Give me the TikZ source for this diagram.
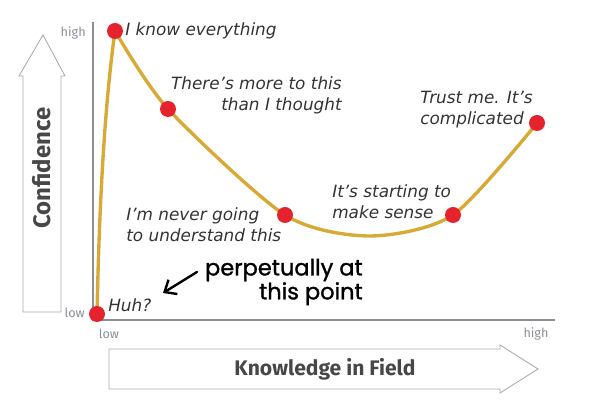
\documentclass[tikz,border=0pt]{standalone}
\usepackage{fontspec}
\usetikzlibrary{arrows.meta}
\newfontfamily\notefont{DejaVu Sans}
\newfontfamily\axisfont{Fira Sans}
\newfontfamily\handfont[FakeBold=1.2]{Poppins}
\definecolor{figA}{HTML}{E4232E}
\definecolor{figB}{HTML}{D9A935}
\definecolor{figC}{HTML}{8C8F97}
\definecolor{figD}{HTML}{A9A9A9}
\definecolor{figE}{HTML}{333333}

\begin{document}
\begin{tikzpicture}[>={Straight Barb[length=7pt,width=12pt]},
  note/.style={font=\notefont\itshape\fontsize{12}{15}\selectfont,text=figE,inner sep=0pt},
  tick/.style={font=\axisfont\fontsize{9}{10}\selectfont,text=figC,inner sep=0pt},
  title/.style={font=\axisfont\bfseries\fontsize{15}{17}\selectfont,text=figE!90,inner sep=0pt},
  hand/.style={font=\handfont\fontsize{16}{17}\selectfont,inner sep=0pt}]
\useasboundingbox (0,0) rectangle (15,10.25);
% Fletxes buides
\draw[figD,line width=0.6pt] (0.575,2.45) -- (0.575,8.35) -- (0.475,8.35) -- (1.075,9.375)
  -- (1.625,8.35) -- (1.525,8.35) -- (1.525,2.45) -- cycle;
\draw[figD,line width=0.6pt] (2.725,1.525) -- (12.5,1.525) -- (12.5,1.625) -- (13.45,1.025)
  -- (12.5,0.425) -- (12.5,0.525) -- (2.725,0.525) -- cycle;
\node[title,rotate=90,font=\axisfont\bfseries\fontsize{17}{17}\selectfont] (conf) at (1.05,6.05) {Confidence};
\node[title] (knowl) at (8.125,1.025) {Knowledge in Field};
% Eixos
\coordinate (ytop) at (2.325,9.7);
\coordinate (xend) at (13.875,2.25);
\draw[figC,line width=2pt] (ytop) |- (xend);
\node[tick,anchor=east] (yhigh) at (2.15,9.425) {high};
\node[tick,anchor=east] (ylow) at (2.125,2.425) {low};
\node[tick] (xlow) at (2.725,1.9) {low};
\node[tick] (xhigh) at (13.4,1.9) {high};
% Corba
\coordinate (huh) at (2.425,2.4);
\coordinate (know) at (2.875,9.475);
\coordinate (more) at (4.2,7.525);
\coordinate (never) at (7.125,4.875);
\coordinate (bottom) at (9.25,4.35);
\coordinate (sense) at (11.325,4.875);
\coordinate (trust) at (13.425,7.175);
\draw[figB,line width=2.4pt,line join=round] (huh) .. controls (2.48,5) and (2.6,7.5) .. (know)
  -- plot[smooth,tension=0.45] coordinates {(know) (more) (never) (bottom) (sense) (trust)};
\foreach \p in {huh,know,more,never,sense,trust}
  \fill[figA] (\p) circle (0.2);
% Etiquetes
\node[note,anchor=west] (lknow) at (3.125,9.475) {I know everything};
\node[note,anchor=east,align=right] (lmore) at (8.55,7.875) {There’s more to this\\than I thought};
\node[note,anchor=west,align=left] (ltrust) at (10.5,7.5) {Trust me. It’s\\complicated};
\node[note,anchor=west,align=left] (lnever) at (3.15,4.625) {I’m never going\\to understand this};
\node[note,anchor=west,align=left] (lsense) at (8.3,5.2) {It’s starting to\\make sense};
\node[note,anchor=west] (lhuh) at (2.7,2.625) {Huh?};
% Nota a mà
\node[hand,anchor=east,align=right] (lpoint) at (9.075,3.2) {perpetually at\\this point};
\coordinate (tail) at (4.925,3.45);
\coordinate (tip) at (4.075,2.925);
\draw[->,line width=1.7pt,line cap=round] (tail) -- (tip);
\end{tikzpicture}
\end{document}
